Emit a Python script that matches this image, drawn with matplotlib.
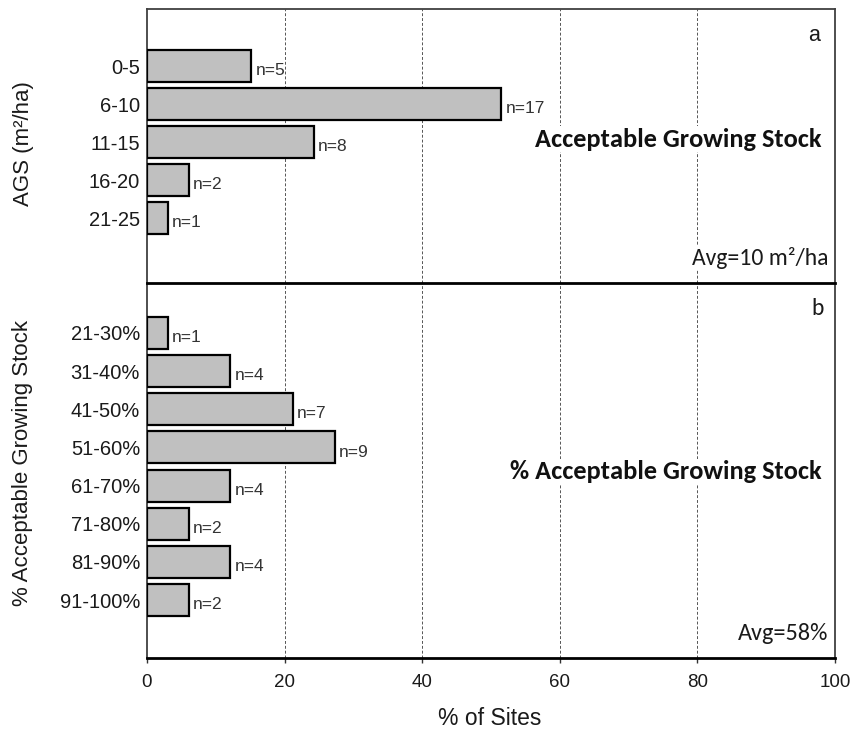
import matplotlib.pyplot as plt
import numpy as np

# Site counts per class (33 sites in total)
ags_classes = ["0-5", "6-10", "11-15", "16-20", "21-25"]
ags_counts = [5, 17, 8, 2, 1]

pct_classes = ["21-30%", "31-40%", "41-50%", "51-60%", "61-70%",
               "71-80%", "81-90%", "91-100%"]
pct_counts = [1, 4, 7, 9, 4, 2, 4, 2]

x_ticks = [0, 20, 40, 60, 80, 100]

plt.rcParams['font.family'] = ['Liberation Sans', 'DejaVu Sans']
calibri_like = ['Carlito', 'DejaVu Sans']
text_color = "#1a1a1a"

fig = plt.figure(figsize=(8.53, 7.38), dpi=100)
left, right = 0.1723, 0.9789
top, mid, bottom = 0.9878, 0.6165, 0.1084
ax_a = fig.add_axes([left, mid, right - left, top - mid])
ax_b = fig.add_axes([left, bottom, right - left, mid - bottom])

bar_color = "#c0c0c0"
total_sites = sum(pct_counts)


def draw_panel(ax, classes, counts, ylim, show_x):
    pcts = [100.0 * c / total_sites for c in counts]
    pos = np.arange(len(classes))
    ax.set_facecolor("none")
    ax.barh(pos, pcts, height=0.84, color=bar_color, edgecolor="black",
            linewidth=1.6, zorder=3)
    for p, v, c in zip(pos, pcts, counts):
        ax.text(v + 0.6, p + 0.12, f"n={c}", va="center", ha="left",
                fontsize=12.5, color="#333333", zorder=4)
    ax.set_yticks(pos)
    ax.set_yticklabels(classes, fontsize=14.5, color=text_color)
    ax.set_ylim(*ylim)
    ax.set_xlim(0, 100)
    ax.set_xticks(x_ticks)
    for xv in x_ticks[1:-1]:
        ax.axvline(xv, color="#555555", linestyle=(0, (3, 2)),
                   linewidth=0.7, zorder=1)
    ax.tick_params(axis="y", length=0, pad=5)
    if show_x:
        ax.tick_params(axis="x", length=3.6, width=1, direction="out",
                       labelsize=13.5, pad=8, colors="#333333",
                       labelcolor=text_color)
    else:
        ax.tick_params(axis="x", length=0, labelbottom=False)
    for s in ax.spines.values():
        s.set_color("#404040")
        s.set_linewidth(1.3)


draw_panel(ax_a, ags_classes, ags_counts, (5.7, -1.5), False)
draw_panel(ax_b, pct_classes, pct_counts, (8.52, -1.31), True)

ax_a.spines["bottom"].set_color("black")
ax_a.spines["bottom"].set_linewidth(2)
ax_a.set_zorder(2)
ax_b.spines["top"].set_visible(False)
ax_b.spines["bottom"].set_color("black")
ax_b.spines["bottom"].set_linewidth(2)

# Axis titles
fig.text(0.027, 0.806, "AGS (m²/ha)", rotation=90, ha="center", va="center",
         fontsize=16, color=text_color)
fig.text(0.026, 0.3726, "% Acceptable Growing Stock", rotation=90,
         ha="center", va="center", fontsize=16, color=text_color)
fig.text(0.5744, 0.0271, "% of Sites", ha="center", va="center",
         fontsize=16.5, color=text_color)

# Panel letters, titles and averages
white_box = dict(facecolor="white", edgecolor="none", pad=1)
ax_a.text(0.969, 0.905, "a", transform=ax_a.transAxes, ha="center",
          va="center", fontsize=15.5, color=text_color)
ax_b.text(0.975, 0.931, "b", transform=ax_b.transAxes, ha="center",
          va="center", fontsize=17, family=calibri_like, color=text_color)
ax_a.text(0.981, 0.525, "Acceptable Growing Stock", transform=ax_a.transAxes,
          ha="right", va="center", fontsize=19, fontweight="bold",
          family=calibri_like, color="#111111", bbox=white_box, zorder=5)
ax_b.text(0.981, 0.497, "% Acceptable Growing Stock",
          transform=ax_b.transAxes, ha="right", va="center", fontsize=19,
          fontweight="bold", family=calibri_like, color="#111111",
          bbox=white_box, zorder=5)
ax_a.text(0.99, 0.092, "Avg=10 m²/ha", transform=ax_a.transAxes,
          ha="right", va="center", fontsize=17, family=calibri_like,
          color=text_color, bbox=white_box, zorder=5)
ax_b.text(0.99, 0.066, "Avg=58%", transform=ax_b.transAxes,
          ha="right", va="center", fontsize=17.5, family=calibri_like,
          color=text_color, bbox=white_box, zorder=5)

fig.savefig("out.png", dpi=100, facecolor="white")
